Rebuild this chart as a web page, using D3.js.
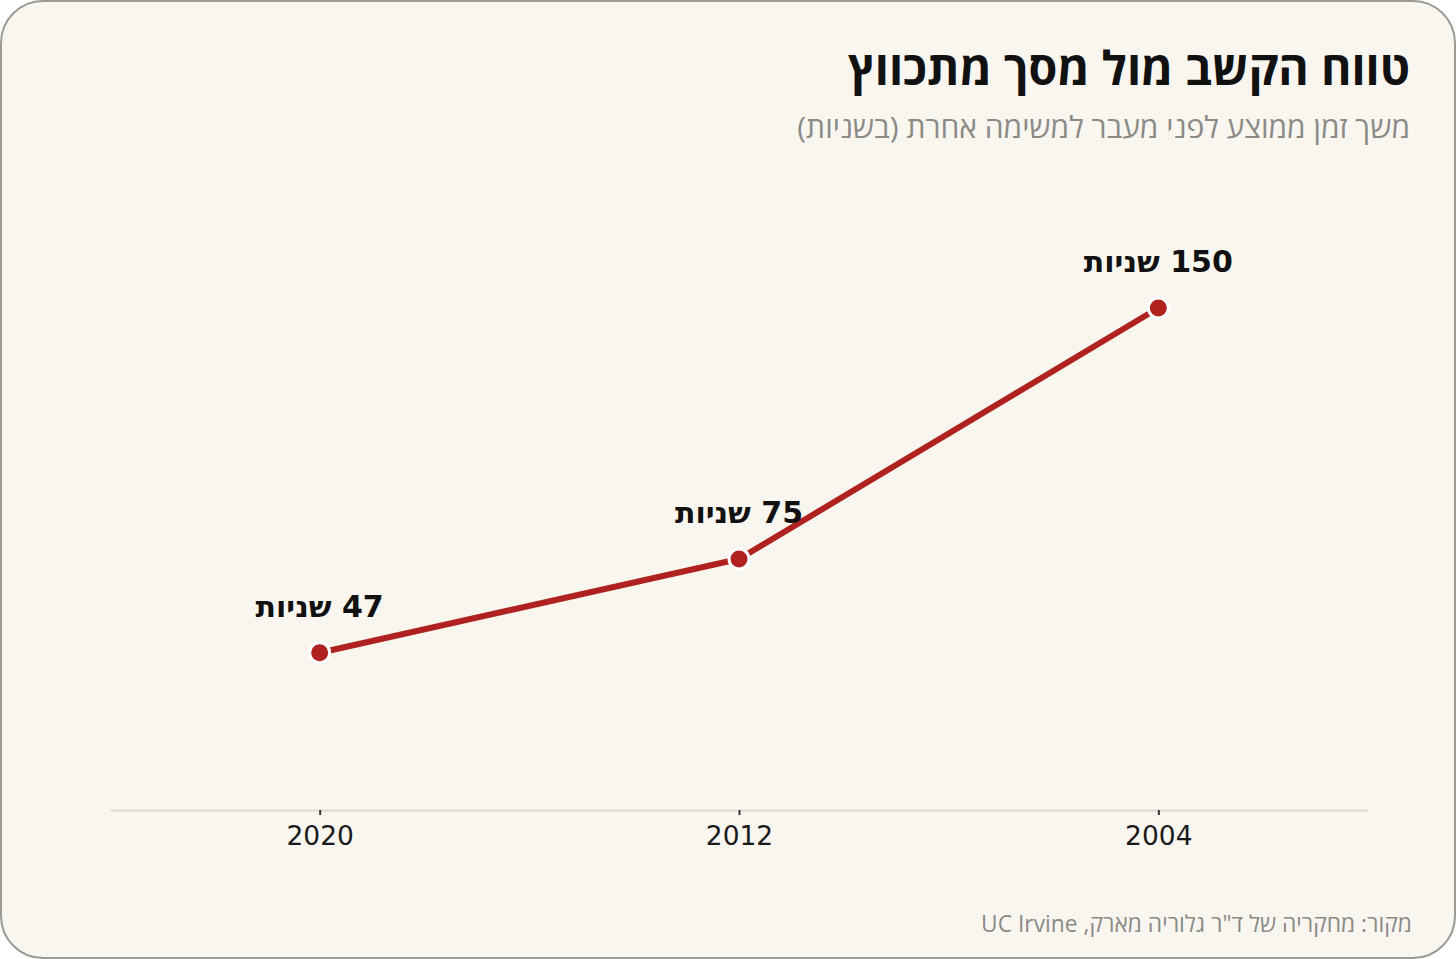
<!DOCTYPE html>
<html lang="he">
<head>
<meta charset="utf-8">
<script src="https://cdn.jsdelivr.net/npm/d3@7"></script>
<style>
  html, body { margin: 0; padding: 0; background: #ffffff; }
  svg { display: block; }
</style>
</head>
<body>
<svg id="chart"></svg>
<script>
// Data
const years = ["2020", "2012", "2004"];
const seconds = [47, 75, 150];
const unitLabel = "שניות";

const titleText = "טווח הקשב מול מסך מתכווץ";
const subtitleText = "משך זמן ממוצע לפני מעבר למשימה אחרת (בשניות)";
const sourceText = "מקור: מחקריה של ד\"ר גלוריה מארק, UC Irvine";

const W = 1456, H = 959;
const svg = d3.select("#chart")
    .attr("width", W)
    .attr("height", H)
    .attr("viewBox", `0 0 ${W} ${H}`);

// card background
svg.append("rect")
    .attr("x", 1).attr("y", 1)
    .attr("width", W - 2).attr("height", H - 2)
    .attr("rx", 42).attr("ry", 42)
    .attr("fill", "#f9f6ef")
    .attr("stroke", "#9a9a96")
    .attr("stroke-width", 2);

const font = "'DejaVu Sans', sans-serif";
const headFont = "'Open Sans', 'DejaVu Sans', sans-serif";

// title + subtitle (right aligned, RTL)
svg.append("text")
    .attr("x", 1410).attr("y", 85)
    .attr("direction", "rtl")
    .attr("text-anchor", "start")
    .attr("font-family", headFont)
    .attr("font-weight", "bold")
    .attr("font-size", 46.5)
    .attr("fill", "#111")
    .text(titleText);

svg.append("text")
    .attr("x", 1410).attr("y", 138)
    .attr("direction", "rtl")
    .attr("text-anchor", "start")
    .attr("font-family", headFont)
    .attr("font-size", 30)
    .attr("fill", "#8a8a86")
    .text(subtitleText);

// scales
const x = d3.scalePoint()
    .domain(years)
    .range([110, 1368])
    .padding(0.5);

const y = d3.scaleLinear()
    .domain([0, d3.max(seconds)])
    .range([810, 308]);

// x axis
const xAxis = svg.append("g")
    .attr("transform", `translate(0, ${y(0)})`)
    .call(d3.axisBottom(x).tickSizeInner(5).tickSizeOuter(0).tickPadding(11));

xAxis.select(".domain")
    .attr("stroke", "#dcdad4")
    .attr("stroke-width", 2);
xAxis.selectAll(".tick line")
    .attr("stroke", "#333")
    .attr("stroke-width", 2);
xAxis.selectAll(".tick text")
    .attr("font-family", font)
    .attr("font-size", 26.5)
    .attr("fill", "#1a1a1a");

// line
const pts = years.map((yr, i) => ({ year: yr, value: seconds[i] }));

svg.append("path")
    .datum(pts)
    .attr("fill", "none")
    .attr("stroke", "#b0221f")
    .attr("stroke-width", 6)
    .attr("stroke-linejoin", "round")
    .attr("d", d3.line().x(d => x(d.year)).y(d => y(d.value)));

// markers
svg.selectAll(".dot")
    .data(pts)
    .enter().append("circle")
    .attr("class", "dot")
    .attr("cx", d => x(d.year))
    .attr("cy", d => y(d.value))
    .attr("r", 10)
    .attr("fill", "#b0221f")
    .attr("stroke", "#ffffff")
    .attr("stroke-width", 3);

// value labels
svg.selectAll(".lbl")
    .data(pts)
    .enter().append("text")
    .attr("class", "lbl")
    .attr("x", d => x(d.year))
    .attr("y", d => y(d.value) - 36)
    .attr("direction", "rtl")
    .attr("text-anchor", "middle")
    .attr("font-family", font)
    .attr("font-weight", "bold")
    .attr("font-size", 30)
    .attr("fill", "#111")
    .text(d => `${d.value} ${unitLabel}`);

// source
svg.append("text")
    .attr("x", 1412).attr("y", 932)
    .attr("direction", "rtl")
    .attr("text-anchor", "start")
    .attr("font-family", headFont)
    .attr("font-size", 22.8)
    .attr("fill", "#8a8a86")
    .text(sourceText);
</script>
</body>
</html>
